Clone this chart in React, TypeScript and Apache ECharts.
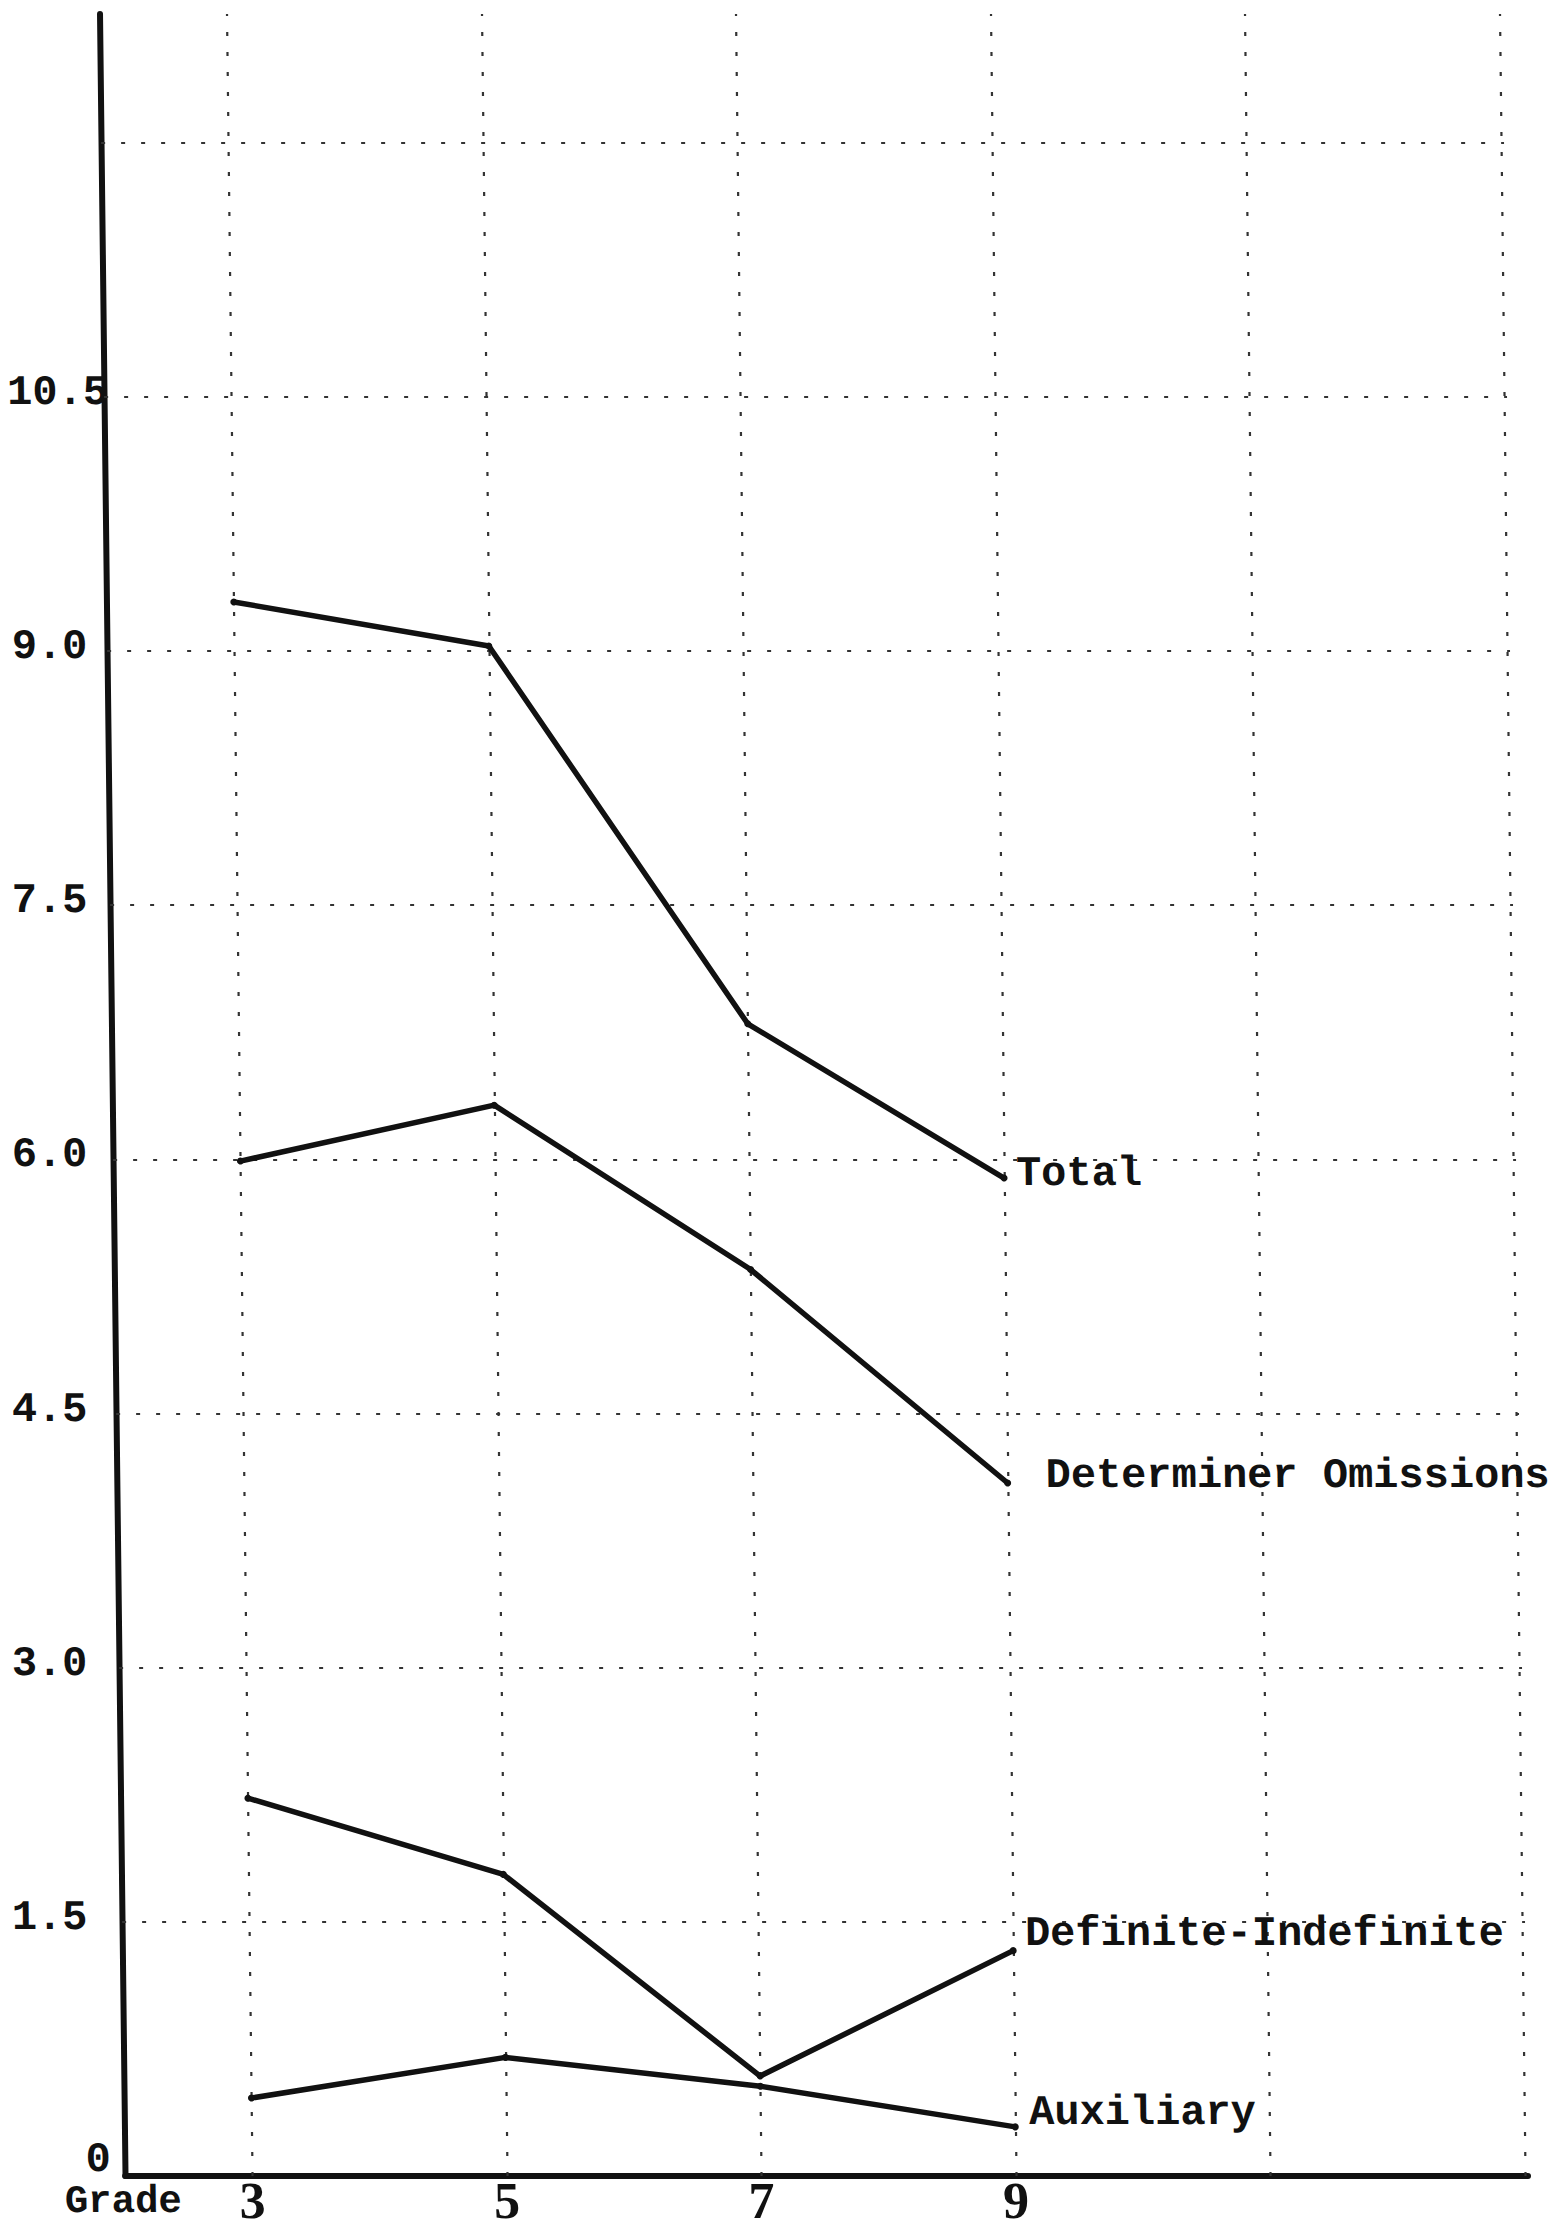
import React, { useEffect, useRef } from "react";
import * as echarts from "echarts";

const grades = [3, 5, 7, 9];
const total = [9.29, 9.03, 6.8, 5.89];
const determiner = [5.99, 6.32, 5.35, 4.09];
const definite = [2.23, 1.78, 0.59, 1.33];
const auxiliary = [0.46, 0.7, 0.53, 0.29];
const seriesNames = ["Total", "Determiner Omissions", "Definite-Indefinite", "Auxiliary"];
const yTicks = [0, 1.5, 3, 4.5, 6, 7.5, 9, 10.5];
const xTicks = [3, 5, 7, 9];
const gridRows = [1.5, 3, 4.5, 6, 7.5, 9, 10.5, 12];
const gridCols = [3, 5, 7, 9, 11, 13];

const INK = "#111";
const MONO = '"Liberation Mono", "DejaVu Sans Mono", monospace';
// the scanned page leans slightly: emulate with a small horizontal skew
const SKEW = 0.0118;
const W = 1561;
const H = 2229;
const GRID = { left: 112.6, right: 45.5, top: 14, bottom: 53 };
const Y_MAX = 12.76;

export default function App() {
  const ref = useRef<HTMLDivElement>(null);
  useEffect(() => {
    if (!ref.current) return;
    const chart = echarts.init(ref.current, undefined, { renderer: "svg" });
    const values = [total, determiner, definite, auxiliary];
    const labelTweaks = [
      { distance: 12, offset: [0, -4] },
      { distance: 38, offset: [0, -7] },
      { distance: 12, offset: [0, -17] },
      { distance: 14, offset: [0, -14] },
    ];
    const series: any[] = values.map((vals, i) => ({
      name: seriesNames[i],
      type: "line",
      data: grades.map((g, j) => [g, vals[j]]),
      symbol: "circle",
      symbolSize: 7,
      showSymbol: true,
      itemStyle: { color: INK },
      lineStyle: { color: INK, width: 5.5 },
      z: 5,
      endLabel: {
        show: true,
        formatter: seriesNames[i],
        distance: labelTweaks[i].distance,
        offset: labelTweaks[i].offset,
        align: "left",
        verticalAlign: "middle",
        fontFamily: MONO,
        fontWeight: "bold",
        fontSize: 42,
        color: INK,
      },
    }));
    series[0].markLine = {
      silent: true,
      symbol: ["none", "none"],
      label: { show: false },
      lineStyle: { color: "#333", width: 2.2, type: [4, 16] },
      data: [
        ...gridCols.map((x) => ({ xAxis: x })),
        ...gridRows.map((y) => ({ yAxis: y })),
      ],
    };
    const labelFont = { fontFamily: MONO, fontWeight: "bold", fontSize: 42, color: INK };
    // typed labels stay upright while the page leans: compensate each label's inset
    const plotH = H - GRID.top - GRID.bottom;
    const rich: Record<string, any> = {};
    yTicks.forEach((v, i) => {
      const y = GRID.top + plotH * (1 - v / Y_MAX);
      const shift = SKEW * (y - H / 2);
      const targetRight = v === 0 ? 111 : v === 10.5 ? 108 : 87.5;
      const pad = Math.max(0, GRID.left + 4 - (targetRight - shift));
      rich["t" + i] =
        v === 0
          ? { ...labelFont, lineHeight: 30, padding: [0, pad, 24, 0] }
          : { ...labelFont, padding: [0, pad, 0, 0] };
    });
    chart.setOption({
      animation: false,
      backgroundColor: "#fff",
      grid: { ...GRID, containLabel: false, outerBoundsMode: "none" },
      xAxis: {
        type: "value",
        min: 2.0,
        max: 13.025,
        axisLine: { show: true, lineStyle: { color: INK, width: 6 } },
        axisTick: { show: false },
        splitLine: { show: false },
        axisLabel: {
          customValues: xTicks,
          fontFamily: '"Liberation Serif", serif',
          fontSize: 52,
          fontWeight: "bold",
          lineHeight: 44,
          color: INK,
          margin: 2,
        },
      },
      yAxis: {
        type: "value",
        min: 0,
        max: Y_MAX,
        axisLine: { show: true, lineStyle: { color: INK, width: 6 } },
        axisTick: { show: false },
        splitLine: { show: false },
        axisLabel: {
          customValues: yTicks,
          formatter: (v: number) => {
            const i = yTicks.indexOf(v);
            return `{t${i}|${v === 0 ? "0" : v.toFixed(1)}}`;
          },
          ...labelFont,
          margin: -4,
          padding: [0, 0, 8, 0],
          rich,
        },
      },
      graphic: [
        {
          type: "text",
          left: 52,
          top: 2182,
          style: { text: "Grade", font: `bold 39px ${MONO}`, fill: INK, lineHeight: 38 },
        },
      ],
      series,
    });
    return () => chart.dispose();
  }, []);
  return (
    <div
      style={{
        position: "absolute",
        left: 0,
        top: 0,
        width: W,
        height: H,
        overflow: "hidden",
        background: "#fff",
      }}
    >
      <div
        ref={ref}
        style={{
          width: W,
          height: H,
          transformOrigin: "50% 50%",
          transform: `skewX(${(Math.atan(SKEW) * 180) / Math.PI}deg)`,
        }}
      />
    </div>
  );
}
